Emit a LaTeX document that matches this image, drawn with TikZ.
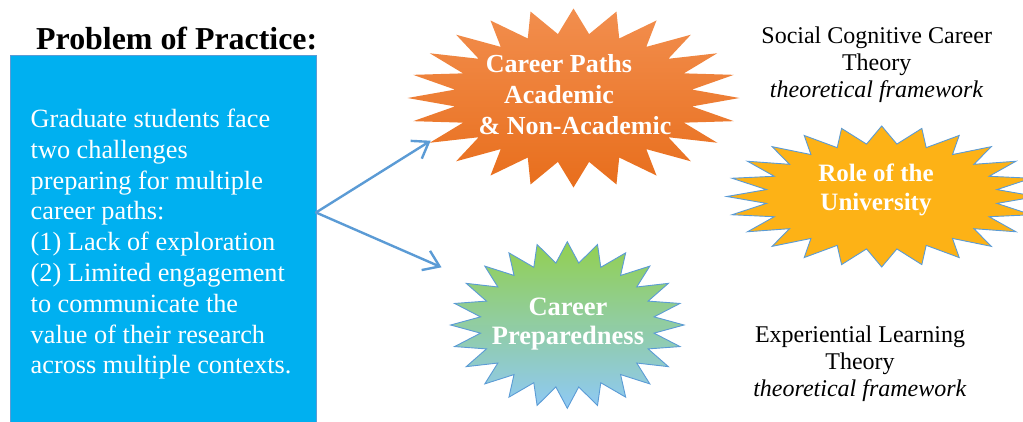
\documentclass[tikz,border=0pt]{standalone}
\usepackage{fontspec}
\setmainfont{Liberation Serif}
\usetikzlibrary{arrows.meta}

\definecolor{boxblue}{RGB}{0,176,240}
\definecolor{edgeblue}{RGB}{91,155,213}
\definecolor{orangetop}{RGB}{242,142,78}
\definecolor{orangebot}{RGB}{232,110,28}
\definecolor{goldfill}{RGB}{253,178,22}
\definecolor{greentop}{RGB}{146,208,80}
\definecolor{skybot}{RGB}{143,201,245}

% 24-point starburst on an ellipse: centre (#1,#2), radii #3/#4, inner ratio #5, style #6
\newcommand\starburst[6]{%
  \path[#6] plot[variable=\t, samples at={0,7.5,...,352.5}]
    ({#1+#3*(1-(1-#5)*mod(round(\t/7.5),2))*cos(\t)},
     {#2+#4*(1-(1-#5)*mod(round(\t/7.5),2))*sin(\t)}) -- cycle;}

\tikzset{
  bursttext/.style={text=white, inner sep=0pt, align=center,
    font=\fontsize{26}{31}\selectfont\bfseries},
  theorytext/.style={inner sep=0pt, align=center,
    font=\fontsize{24}{27}\selectfont},
  link/.style={draw=edgeblue, line width=2.4pt, line cap=round, line join=round,
    -{Straight Barb[length=15pt,width=21pt,line width=2.4pt]}},
}

\begin{document}
\begin{tikzpicture}[x=1pt,y=-1pt]
\useasboundingbox (0,0) rectangle (1023,421);
\clip (0,0) rectangle (1023,421);

% problem statement panel
\node (title) [anchor=base west, inner sep=0pt,
  font=\fontsize{31.9}{38}\selectfont\bfseries] at (36,49.3) {Problem of Practice:};
\node (problem) [anchor=north west, draw=edgeblue, line width=0.8pt, fill=boxblue,
  minimum width=306pt, minimum height=380pt, inner sep=0pt] at (10,55) {};
\node (problemtext) [anchor=north west, inner sep=0pt, align=left, text=white,
  font=\fontsize{26.3}{30.8}\selectfont] at (30.5,108.7)
  {Graduate students face\\two challenges\\preparing for multiple\\career paths:\\
   (1) Lack of exploration\\(2) Limited engagement\\to communicate the\\
   value of their research\\across multiple contexts.};

% starbursts
\starburst{573.5}{98}{166}{89.5}{0.72}{top color=orangetop, bottom color=orangebot}
\starburst{881.7}{196.5}{155}{70.5}{0.75}{fill=goldfill, draw=edgeblue, line width=0.9pt}
\starburst{567.3}{325}{116.7}{83.3}{0.75}{top color=greentop, bottom color=skybot, draw=edgeblue, line width=0.9pt}

\node (paths) [bursttext] at (559,95)
  {Career Paths\\Academic\\\hspace*{32pt}\& Non-Academic};
\node (university) [bursttext, font=\fontsize{25}{28.3}\selectfont\bfseries] at (876,190)
  {Role of the\\University};
\node (prepared) [bursttext, font=\fontsize{26.5}{29}\selectfont\bfseries] at (568,324.5)
  {Career\\Preparedness};

% theoretical frameworks
\node (sccT) [theorytext] at (876.7,64.6)
  {Social Cognitive Career\\Theory\\\textit{theoretical framework}};
\node (elT) [theorytext] at (860,363.3)
  {Experiential Learning\\Theory\\\textit{theoretical framework}};

% connectors
\coordinate (fork) at (316,212.5);
\coordinate (pathsTip) at (430.7,140.7);
\coordinate (preparedTip) at (441.5,267.3);
\draw[link] (fork) -- (pathsTip);
\draw[link] (fork) -- (preparedTip);
\end{tikzpicture}
\end{document}
